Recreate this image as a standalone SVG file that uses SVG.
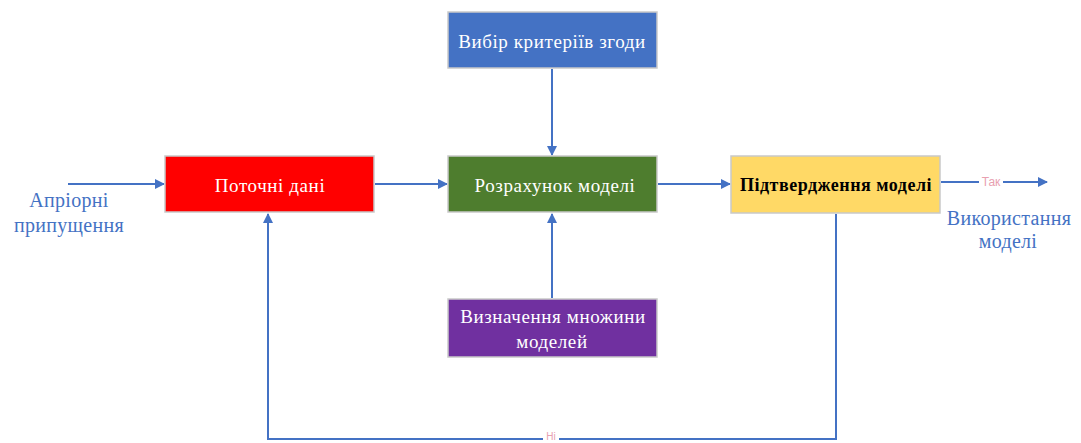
<svg xmlns="http://www.w3.org/2000/svg" width="1081" height="443" viewBox="0 0 1081 443">
  <style>
    .box { stroke: #c9c9c9; stroke-width: 1.5; }
    .lbl { font-family: "Liberation Serif", "DejaVu Serif", serif; font-size: 19px; letter-spacing: 0.6px; text-anchor: middle; dominant-baseline: central; }
    .white { fill: #ffffff; }
    .dark { fill: #000000; font-weight: bold; font-size: 18px; letter-spacing: 0.5px; }
    .side { font-family: "Liberation Serif", "DejaVu Serif", serif; font-size: 20px; letter-spacing: 0.3px; fill: #4472c4; text-anchor: middle; }
    .wire { fill: none; stroke: #4472c4; stroke-width: 2; }
    .tag { font-family: "Liberation Sans", Arial, sans-serif; font-size: 12px; fill: #e8a0b0; text-anchor: middle; dominant-baseline: central; }
  </style>
  <defs>
    <marker id="arrow" viewBox="0 0 10 10" refX="9" refY="5" markerWidth="5" markerHeight="5" orient="auto-start-reverse">
      <path d="M0,0 L10,5 L0,10 z" fill="#4472c4"/>
    </marker>
  </defs>
  <rect width="1081" height="443" fill="#ffffff"/>

  <g id="connectors">
    <line class="wire" x1="68" y1="184" x2="164" y2="184" marker-end="url(#arrow)"/>
    <line class="wire" x1="375" y1="184" x2="447" y2="184" marker-end="url(#arrow)"/>
    <line class="wire" x1="658" y1="184" x2="730" y2="184" marker-end="url(#arrow)"/>
    <line class="wire" x1="941" y1="182" x2="1047" y2="182" marker-end="url(#arrow)"/>
    <line class="wire" x1="552" y1="69" x2="552" y2="155" marker-end="url(#arrow)"/>
    <line class="wire" x1="552" y1="298" x2="552" y2="214" marker-end="url(#arrow)"/>
    <polyline class="wire" points="836,214 836,439 268,439 268,214" marker-end="url(#arrow)"/>
    <rect x="979" y="175" width="24" height="14" fill="#ffffff"/>
    <text class="tag" x="991" y="182">Так</text>
    <rect x="543" y="432" width="16" height="10" fill="#ffffff"/>
    <text class="tag" x="551" y="436" style="font-size:10px">Ні</text>
  </g>

  <g id="node-criteria">
    <rect class="box" x="448" y="12" width="209" height="56" fill="#4472c4"/>
    <text class="lbl white" x="552" y="41">Вибір критеріїв згоди</text>
  </g>

  <g id="node-data">
    <rect class="box" x="165" y="156" width="209" height="56" fill="#ff0000"/>
    <text class="lbl white" x="270" y="185">Поточні дані</text>
  </g>

  <g id="node-calc">
    <rect class="box" x="448" y="156" width="209" height="56" fill="#4e7d2e"/>
    <text class="lbl white" x="555" y="185">Розрахунок моделі</text>
  </g>

  <g id="node-confirm">
    <rect class="box" x="731" y="156" width="209" height="57" fill="#ffd966"/>
    <text class="lbl dark" x="836" y="185">Підтвердження моделі</text>
  </g>

  <g id="node-set">
    <rect class="box" x="448" y="299" width="209" height="58" fill="#7030a0"/>
    <text class="lbl white" x="553" y="316">Визначення множини</text>
    <text class="lbl white" x="552" y="341">моделей</text>
  </g>

  <g id="input-label">
    <text class="side" x="69" y="207">Апріорні</text>
    <text class="side" x="69" y="232">припущення</text>
  </g>

  <g id="output-label">
    <text class="side" x="1009" y="225">Використання</text>
    <text class="side" x="1008" y="248">моделі</text>
  </g>
</svg>
